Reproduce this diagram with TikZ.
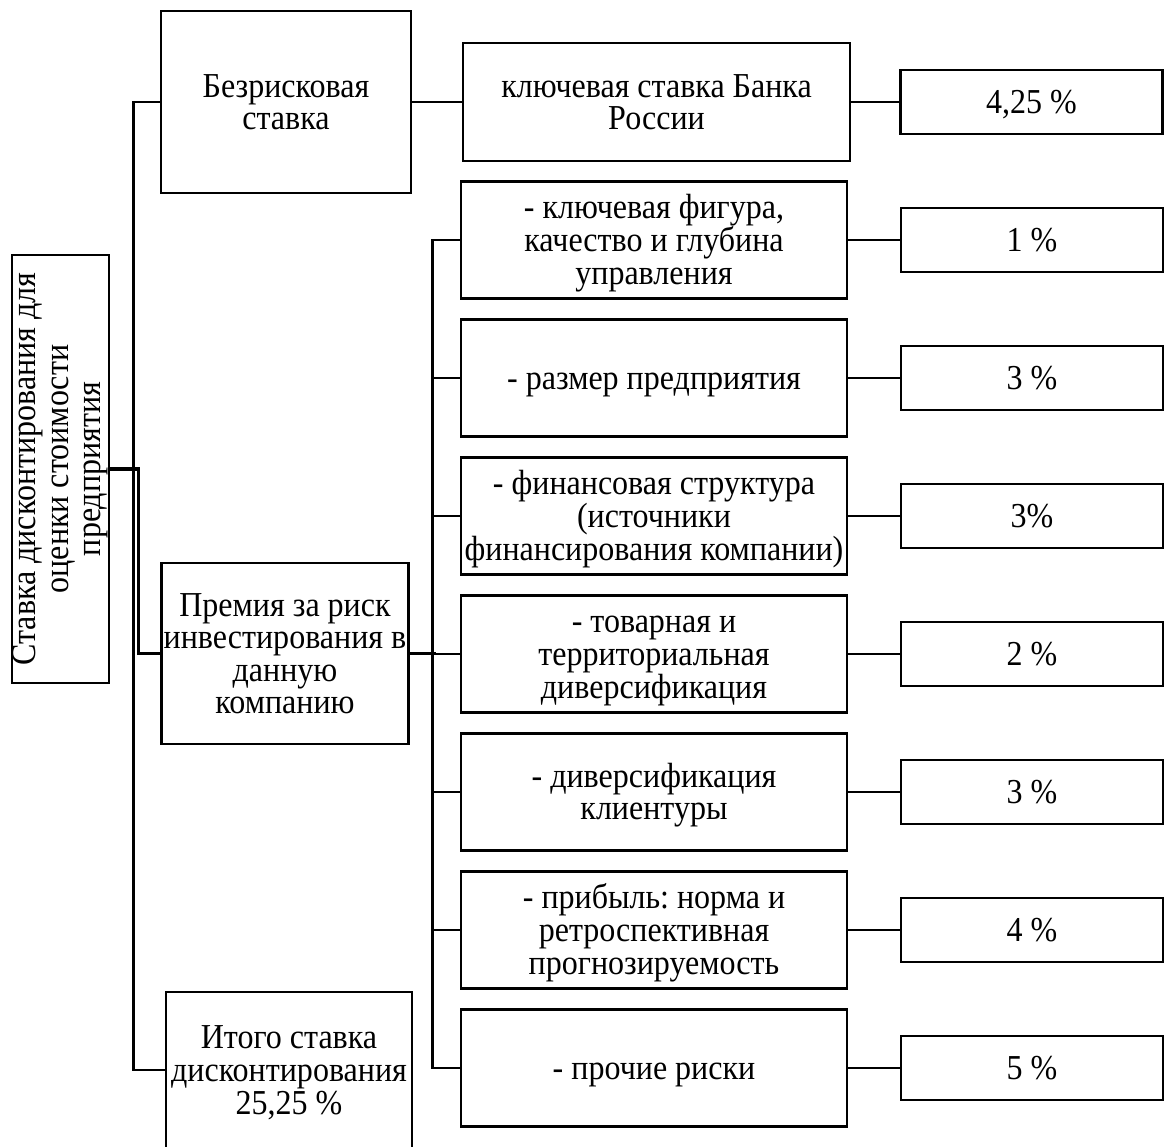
\documentclass[tikz,border=0pt]{standalone}
\usepackage{fontspec}
\setmainfont{Liberation Serif}[FakeStretch=0.915]
\newcommand\boxstrut{\rule[-4pt]{0pt}{19.5pt}}
\begin{document}
\begin{tikzpicture}[x=0.5pt,y=-0.5pt,line width=1.3pt,
                    box/.style={draw,align=center,inner sep=1pt,font={\fontsize{17.5pt}{16.3pt}\selectfont\lineskiplimit=-50pt\frenchspacing}},
                    factor/.style={box,minimum width=193pt,minimum height=58.5pt},
                    pct/.style={box,minimum width=131pt,minimum height=32pt}]
                    \useasboundingbox (0,0) rectangle (1170,1146);

                    \node[box,rotate=90,inner sep=0pt,minimum width=214pt,minimum height=48.5pt] (root) at (60.5,469) {Ставка дисконтирования для\\оценки стоимости\\предприятия};
                    \node[box,minimum width=125pt,minimum height=91pt] (riskfree) at (286,102) {\boxstrut Безрисковая\\ставка\boxstrut};
                    \node[box,minimum width=123pt,minimum height=90.5pt] (premium) at (285,653.5) {\boxstrut Премия за риск\\инвестирования в\\данную\\компанию\boxstrut};
                    \node[box,minimum width=123pt,minimum height=78pt] (total) at (289,1070) {\boxstrut Итого ставка\\дисконтирования\\25,25 \%\boxstrut};
                    \node[box,minimum width=193.5pt,minimum height=59pt] (keyrate) at (656.5,102) {\boxstrut ключевая ставка Банка\\России\boxstrut};
                    \node[pct] (keyval) at (1031.5,102) {\boxstrut 4,25 \%};

                    \node[factor] (f1) at (654,240) {\boxstrut - ключевая фигура,\\качество и глубина\\управления\boxstrut};
                    \node[factor] (f2) at (654,378) {\boxstrut - размер предприятия};
                    \node[factor] (f3) at (654,516) {\boxstrut - финансовая структура\\(источники\\финансирования компании)\boxstrut};
                    \node[factor] (f4) at (654,654) {\boxstrut - товарная и\\территориальная\\диверсификация\boxstrut};
                    \node[factor] (f5) at (654,792) {\boxstrut - диверсификация\\клиентуры\boxstrut};
                    \node[factor] (f6) at (654,930) {\boxstrut - прибыль: норма и\\ретроспективная\\прогнозируемость\boxstrut};
                    \node[factor] (f7) at (654,1068) {\boxstrut - прочие риски};

                    \node[pct] (p1) at (1032,240) {\boxstrut 1 \%};
                    \node[pct] (p2) at (1032,378) {\boxstrut 3 \%};
                    \node[pct] (p3) at (1032,516) {\boxstrut 3\%};
                    \node[pct] (p4) at (1032,654) {\boxstrut 2 \%};
                    \node[pct] (p5) at (1032,792) {\boxstrut 3 \%};
                    \node[pct] (p6) at (1032,930) {\boxstrut 4 \%};
                    \node[pct] (p7) at (1032,1068) {\boxstrut 5 \%};

                    \draw (riskfree.west) -- ++(-26,0) |- (total.west);
                    \draw[line width=1.7pt] (root.south) -- ++(28,0) |- (premium.west);
                    \draw (riskfree) -- (keyrate);
                    \draw (keyrate) -- (keyval);
                    \draw (premium.east) -- ++(26,0);
                    \draw (f1.west) -- ++(-27,0) |- (f7.west);
                    \draw (f2.west) -- ++(-27,0);
                    \draw (f3.west) -- ++(-27,0);
                    \draw (f4.west) -- ++(-27,0);
                    \draw (f5.west) -- ++(-27,0);
                    \draw (f6.west) -- ++(-27,0);
                    \draw (f1) -- (p1);
                    \draw (f2) -- (p2);
                    \draw (f3) -- (p3);
                    \draw (f4) -- (p4);
                    \draw (f5) -- (p5);
                    \draw (f6) -- (p6);
                    \draw (f7) -- (p7);
\end{tikzpicture}
\end{document}
